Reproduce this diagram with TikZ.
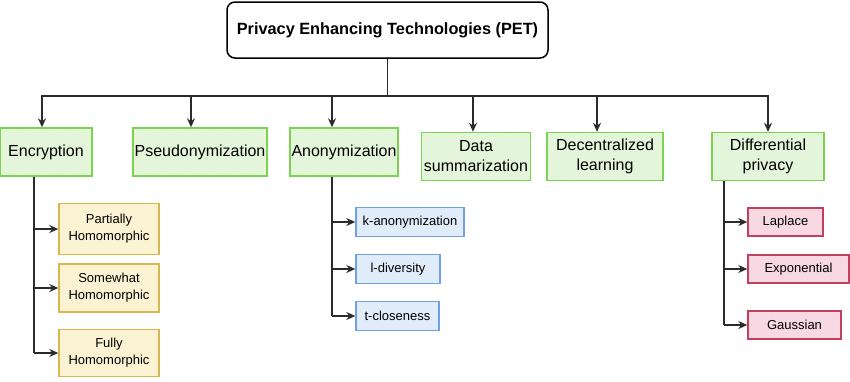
\documentclass[tikz,border=0pt]{standalone}
\usepackage{fontspec}
\setmainfont{Liberation Sans}
\usetikzlibrary{arrows.meta,calc,patterns}
\definecolor{linegray}{HTML}{2B2B2B}
\definecolor{leafgreen}{HTML}{7CD34F}
\definecolor{leafgreenfill}{HTML}{EAF8E1}
\definecolor{leafyellow}{HTML}{D6B84E}
\definecolor{leafyellowfill}{HTML}{FFF6D2}
\definecolor{leafblue}{HTML}{6FA0E6}
\definecolor{leafbluefill}{HTML}{E3EEFD}
\definecolor{leafred}{HTML}{C23F5E}
\definecolor{leafredfill}{HTML}{FBDCE6}
\tikzset{
    box/.style={line width=1.4pt, inner sep=1pt, align=center},
    titlebox/.style={box, draw=black, line width=1.5pt, rounded corners=8pt, fill=white,
        font=\fontsize{16.3}{20}\selectfont\bfseries},
    greenbox/.style={box, draw=leafgreen, preaction={fill=leafgreenfill},
        preaction={pattern=north east lines, pattern color=leafgreen!30}, minimum height=48, font=\fontsize{16}{20}\selectfont},
    yellowbox/.style={box, draw=leafyellow, preaction={fill=leafyellowfill},
        preaction={pattern=north east lines, pattern color=leafyellow!25}, minimum width=100, font=\fontsize{13}{17}\selectfont},
    bluebox/.style={box, draw=leafblue, preaction={fill=leafbluefill},
        preaction={pattern=north east lines, pattern color=leafblue!22}, minimum height=29, font=\fontsize{13}{17}\selectfont},
    redbox/.style={box, draw=leafred, preaction={fill=leafredfill},
        preaction={pattern=north east lines, pattern color=leafred!22}, minimum height=28, font=\fontsize{13}{17}\selectfont},
    wire/.style={draw=linegray, line width=1.5pt},
    arr/.style={wire, -{Stealth[length=9pt,width=8pt,fill=linegray]}},
}
\begin{document}
\begin{tikzpicture}[x=1pt, y=-1pt]
        \useasboundingbox (0,0) rectangle (850,381);
        % root
        \node[titlebox, minimum width=321, minimum height=56](pet)at(387.5,30){Privacy Enhancing Technologies (PET)};
        \coordinate(bus)at(0,96);
        % main branches
        \node[greenbox, minimum width=92](enc)at(46,152){Encryption};
        \node[greenbox, minimum width=134](pseudo)at(200,152){Pseudonymization};
        \node[greenbox, minimum width=108](anon)at(344,152){Anonymization};
        \node[greenbox, minimum width=109](summ)at(476,156.5){Data\\summarization};
        \node[greenbox, minimum width=116](decl)at(605,156.5){Decentralized\\learning};
        \node[greenbox, minimum width=112](diffp)at(768,156.5){Differential\\privacy};
        \path[wire](pet.south)to(pet.south |- bus);
        \foreach \n/\dx in {enc/-4, pseudo/-9, anon/-12, summ/-3, decl/-8, diffp/0}
        {
            \path[arr](pet.south |- bus) -| ([xshift=\dx pt]\n.north);
        }
        % encryption
        \node[yellowbox, minimum height=51](parth)at(109,229){Partially\\Homomorphic};
        \node[yellowbox, minimum height=48](someh)at(109,288){Somewhat\\Homomorphic};
        \node[yellowbox, minimum height=47](fullh)at(109,353){Fully\\Homomorphic};
        \coordinate(encspine)at([xshift=-12pt]enc.south);
        \path[wire](encspine)to(encspine |- fullh.west);
        \foreach \n in {parth, someh, fullh}
        {
            \path[arr](encspine |- \n.west)to(\n.west);
        }
        % anonymization
        \node[bluebox, minimum width=108](kanon)at(410,222){k-anonymization};
        \node[bluebox, minimum width=84](ldiv)at(398,269){l-diversity};
        \node[bluebox, minimum width=83](tclose)at(397.5,316){t-closeness};
        \coordinate(anonspine)at([xshift=-12pt]anon.south);
        \path[wire](anonspine)to(anonspine |- tclose.west);
        \foreach \n in {kanon, ldiv, tclose}
        {
            \path[arr](anonspine |- \n.west)to(\n.west);
        }
        % differential privacy
        \node[redbox, minimum width=75](laplace)at(785.5,222){Laplace};
        \node[redbox, minimum width=101](expo)at(798.5,269){Exponential};
        \node[redbox, minimum width=93](gauss)at(794.5,325){Gaussian};
        \coordinate(dpspine)at([xshift=-44pt]diffp.south);
        \path[wire](dpspine)to(dpspine |- gauss.west);
        \foreach \n in {laplace, expo, gauss}
        {
            \path[arr](dpspine |- \n.west)to(\n.west);
        }
    \end{tikzpicture}
\end{document}
